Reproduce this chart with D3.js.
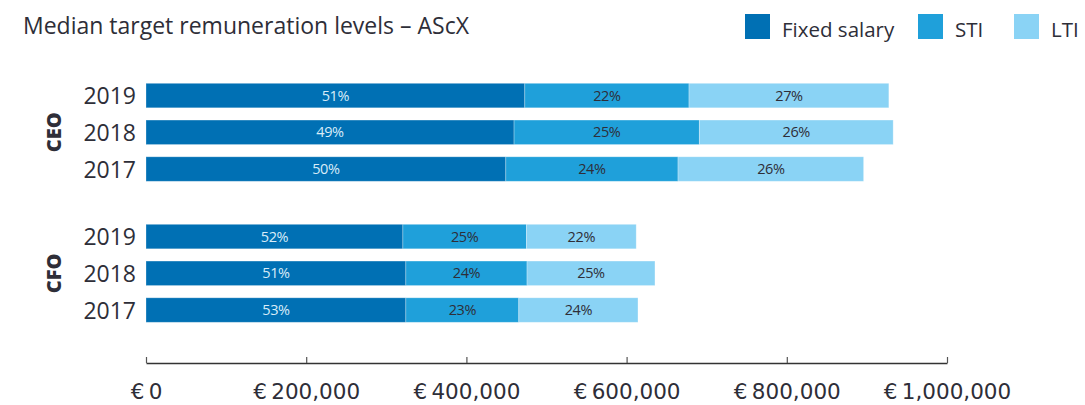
<!DOCTYPE html>
<html>
<head>
<meta charset="utf-8">
<script src="https://cdn.jsdelivr.net/npm/d3@7"></script>
<style>
  html, body { margin: 0; padding: 0; background: #fff; }
  svg { display: block; }
</style>
</head>
<body>
<svg id="chart" width="1085" height="405"></svg>
<script>
// Median target remuneration per role and year (EUR)
const roles = ["CEO", "CFO"];
const years = ["2019", "2018", "2017"];
const components = ["Fixed salary", "STI", "LTI"];
const fixedSalary = { CEO: [472900, 459500, 449200], CFO: [320700, 324400, 324400] };
const sti         = { CEO: [205000, 231300, 215000], CFO: [154200, 151300, 141000] };
const lti         = { CEO: [249500, 242000, 231700], CFO: [137100, 159700, 148800] };
const xTicks = [0, 200000, 400000, 600000, 800000, 1000000];
const title = "Median target remuneration levels \u2013 AScX";

const colors = { "Fixed salary": "#0070b4", "STI": "#1fa0da", "LTI": "#8ad3f5" };
const labelColors = { "Fixed salary": "#d9ecf8", "STI": "#2e2e38", "LTI": "#2e2e38" };
const ink = "#2e2e38";

// Build one row per role/year with its stacked segments
const rows = [];
roles.forEach(role => {
  years.forEach((year, i) => {
    const vals = [fixedSalary[role][i], sti[role][i], lti[role][i]];
    const total = d3.sum(vals);
    let x0 = 0;
    const segs = components.map((c, k) => {
      const s = { key: c, x0: x0, x1: x0 + vals[k], share: Math.round(vals[k] / total * 100) };
      x0 += vals[k];
      return s;
    });
    rows.push({ role, year, segs });
  });
});

const svg = d3.select("#chart");

const x = d3.scaleLinear().domain([0, 1000000]).range([146, 947]);
const yGroup = d3.scaleBand().domain(roles).range([83.3, 322.3]).paddingInner(0.305);
const yYear = d3.scaleBand().domain(years).range([0, yGroup.bandwidth()]).paddingInner(0.333);

// Title
svg.append("text")
  .attr("x", 23).attr("y", 34)
  .attr("font-family", "Open Sans")
  .attr("font-size", 23)
  .attr("fill", ink)
  .text(title);

// Legend
const legendPos = [
  { key: "Fixed salary", x: 745 },
  { key: "STI", x: 918 },
  { key: "LTI", x: 1014 }
];
const lg = svg.append("g").selectAll("g").data(legendPos).join("g")
  .attr("transform", d => `translate(${d.x},14)`);
lg.append("rect").attr("width", 25).attr("height", 25).attr("fill", d => colors[d.key]);
lg.append("text")
  .attr("x", 37).attr("y", 22.5)
  .attr("font-family", "Open Sans")
  .attr("font-size", 20.5)
  .attr("fill", ink)
  .text(d => d.key);

// Bars
const rowG = svg.append("g").selectAll("g").data(rows).join("g")
  .attr("transform", d => `translate(0,${yGroup(d.role) + yYear(d.year)})`);

rowG.selectAll("rect").data(d => d.segs).join("rect")
  .attr("x", s => x(s.x0))
  .attr("width", s => x(s.x1) - x(s.x0))
  .attr("height", yYear.bandwidth())
  .attr("fill", s => colors[s.key])
  .attr("stroke", "#ffffff")
  .attr("stroke-opacity", 0.35)
  .attr("stroke-width", 0.8);

rowG.selectAll("text.val").data(d => d.segs).join("text")
  .attr("class", "val")
  .attr("x", s => (x(s.x0) + x(s.x1)) / 2)
  .attr("y", yYear.bandwidth() / 2 + 5)
  .attr("text-anchor", "middle")
  .attr("font-family", "Open Sans")
  .attr("font-size", 14.5)
  .attr("letter-spacing", -0.4)
  .attr("fill", s => labelColors[s.key])
  .text(s => s.share + "%");

// Year labels
rowG.append("text")
  .attr("x", 136)
  .attr("y", yYear.bandwidth() / 2 + 8.5)
  .attr("text-anchor", "end")
  .attr("font-family", "Open Sans")
  .attr("font-size", 23)
  .attr("fill", ink)
  .text(d => d.year);

// Role labels, rotated
svg.append("g").selectAll("text").data(roles).join("text")
  .attr("transform", r => `translate(61,${yGroup(r) + yGroup.bandwidth() / 2}) rotate(-90)`)
  .attr("text-anchor", "middle")
  .attr("font-family", "Open Sans")
  .attr("font-weight", 800)
  .attr("font-size", 20)
  .attr("fill", ink)
  .text(r => r);

// X axis: ticks point upward from the baseline
const axis = d3.axisBottom(x)
  .tickValues(xTicks)
  .tickSize(-6)
  .tickSizeOuter(0)
  .tickFormat(v => "\u20ac\u2009" + d3.format(",")(v));

const ax = svg.append("g").attr("transform", "translate(0,363)").call(axis);
ax.select(".domain").attr("stroke", "#333").attr("stroke-width", 1.5);
ax.selectAll(".tick line").attr("stroke", "#555").attr("stroke-width", 1.2);
ax.selectAll(".tick text")
  .attr("y", 36)
  .attr("dy", 0)
  .attr("font-family", "DejaVu Sans")
  .attr("font-size", 21.5)
  .attr("fill", ink);
</script>
</body>
</html>
